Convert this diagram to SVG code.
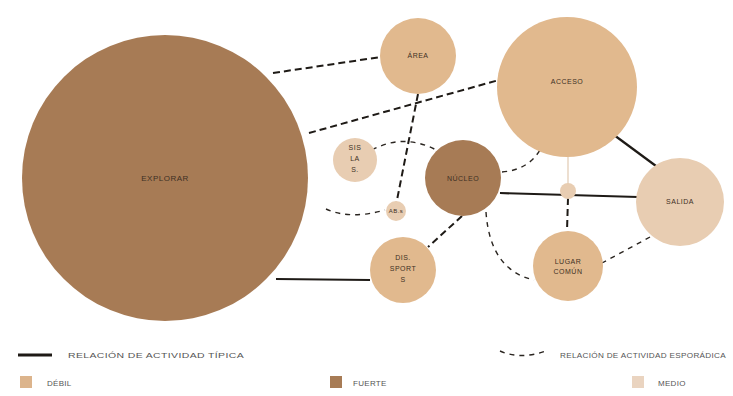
<svg xmlns="http://www.w3.org/2000/svg" width="733" height="396" viewBox="0 0 733 396">
<style>
.t{font-family:"Liberation Sans",Arial,sans-serif;font-size:7px;fill:#3e3024;text-anchor:middle;letter-spacing:0.5px}
.lg{font-family:"Liberation Sans",Arial,sans-serif;font-size:8px;fill:#555;letter-spacing:0.3px}
.solid{stroke:#1e1a16;stroke-width:2.2;fill:none}
.dash{stroke:#1e1a16;stroke-width:2;fill:none;stroke-dasharray:7 4}
.dash2{stroke:#2a2520;stroke-width:1.4;fill:none;stroke-dasharray:5 5}
.thin{stroke:#e6d2bd;stroke-width:1.4;fill:none}
.dark{fill:#a77b55}
.mid{fill:#e1b98e}
.light{fill:#e8cdb2}
</style>
<g id="connectors">
<line class="dash" x1="273" y1="73" x2="381" y2="57"/>
<line class="dash" x1="309" y1="133" x2="499" y2="80"/>
<line class="dash" x1="418" y1="94" x2="396" y2="205"/>
<path class="dash2" d="M372,150 Q405,132 440,152"/>
<path class="dash2" d="M326,209 Q350,220 385,210"/>
<line class="dash" x1="462" y1="216" x2="428" y2="247"/>
<line class="solid" x1="276" y1="279" x2="370" y2="280"/>
<line class="solid" x1="500" y1="193" x2="638" y2="197"/>
<path class="dash2" d="M502,172 Q528,170 540,150"/>
<line class="solid" x1="614" y1="135" x2="656" y2="166"/>
<line class="thin" x1="568" y1="156" x2="568" y2="184"/>
<line class="dash" x1="568" y1="198" x2="567" y2="231"/>
<line class="dash2" x1="650" y1="237" x2="602" y2="263"/>
<path class="dash2" d="M486,212 Q490,270 534,280"/>
</g>
<g id="n-big"><circle class="dark" cx="165" cy="178" r="143"/><text class="t" x="165" y="181" style="font-size:8px">EXPLORAR</text></g>
<g id="n-top"><circle class="mid" cx="418" cy="56" r="38"/><text class="t" x="418" y="58">ÁREA</text></g>
<g id="n-topright"><circle class="mid" cx="567" cy="87" r="70"/><text class="t" x="567" y="84">ACCESO</text></g>
<g id="n-small"><circle class="light" cx="355" cy="160" r="22"/><text class="t" x="355" y="150">SIS</text><text class="t" x="355" y="161">LA</text><text class="t" x="355" y="172">S.</text></g>
<g id="n-center"><circle class="dark" cx="463" cy="178" r="38"/><text class="t" x="463" y="181">NÚCLEO</text></g>
<g id="n-tiny1"><circle class="light" cx="396" cy="211" r="10"/><text class="t" x="396" y="213" style="font-size:6px">AB.s</text></g>
<g id="n-tiny2"><circle class="light" cx="568" cy="191" r="8"/></g>
<g id="n-right"><circle class="light" cx="680" cy="202" r="44"/><text class="t" x="680" y="204">SALIDA</text></g>
<g id="n-bottom"><circle class="mid" cx="403" cy="270" r="33"/><text class="t" x="403" y="260">DIS.</text><text class="t" x="403" y="271">SPORT</text><text class="t" x="403" y="282">S</text></g>
<g id="n-bottomright"><circle class="mid" cx="568" cy="266" r="35"/><text class="t" x="568" y="264">LUGAR</text><text class="t" x="568" y="274">COMÚN</text></g>
<g id="legend">
<line x1="18" y1="355" x2="52" y2="355" stroke="#1e1a16" stroke-width="3"/>
<text class="lg" x="68" y="358" textLength="176" lengthAdjust="spacingAndGlyphs">RELACIÓN DE ACTIVIDAD TÍPICA</text>
<path d="M500,351 Q520,360 546,351" stroke="#2a2520" stroke-width="1.4" fill="none" stroke-dasharray="5 5"/>
<text class="lg" x="560" y="358" textLength="166" lengthAdjust="spacingAndGlyphs">RELACIÓN DE ACTIVIDAD ESPORÁDICA</text>
<rect x="20" y="376" width="12" height="12" fill="#dcb48c"/>
<text class="lg" x="47" y="386">DÉBIL</text>
<rect x="330" y="376" width="12" height="12" fill="#a77b55"/>
<text class="lg" x="353" y="386">FUERTE</text>
<rect x="632" y="376" width="12" height="12" fill="#ead4c0"/>
<text class="lg" x="658" y="386">MEDIO</text>
</g>
</svg>
